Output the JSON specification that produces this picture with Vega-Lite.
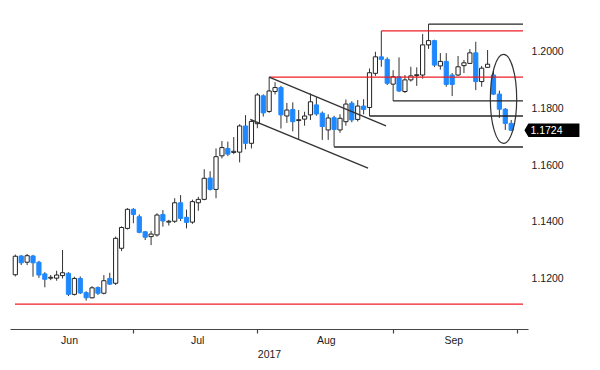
{
  "$schema": "https://vega.github.io/schema/vega-lite/v6.json",
  "width": 518,
  "height": 324,
  "autosize": {"type": "none"},
  "padding": {"left": 10, "top": 5, "right": 72, "bottom": 41},
  "background": "white",
  "config": {"view": {"stroke": null}, "font": "Liberation Sans"},
  "datasets": {
    "ohlc": [
      {"i":1,"o":1.1216,"h":1.1287,"l":1.1210,"c":1.1281},
      {"i":2,"o":1.1282,"h":1.1285,"l":1.1250,"c":1.1258},
      {"i":3,"o":1.1260,"h":1.1289,"l":1.1250,"c":1.1283},
      {"i":4,"o":1.1282,"h":1.1286,"l":1.1209,"c":1.1258},
      {"i":5,"o":1.1260,"h":1.1265,"l":1.1205,"c":1.1215},
      {"i":6,"o":1.1219,"h":1.1225,"l":1.1172,"c":1.1200},
      {"i":7,"o":1.1204,"h":1.1215,"l":1.1197,"c":1.1207},
      {"i":8,"o":1.1204,"h":1.1230,"l":1.1195,"c":1.1215},
      {"i":9,"o":1.1213,"h":1.1303,"l":1.1203,"c":1.1223},
      {"i":10,"o":1.1221,"h":1.1225,"l":1.1141,"c":1.1147},
      {"i":11,"o":1.1147,"h":1.1209,"l":1.1143,"c":1.1203},
      {"i":12,"o":1.1203,"h":1.1210,"l":1.1148,"c":1.1152},
      {"i":13,"o":1.1153,"h":1.1158,"l":1.1125,"c":1.1135},
      {"i":14,"o":1.1135,"h":1.1176,"l":1.1133,"c":1.1170},
      {"i":15,"o":1.1171,"h":1.1175,"l":1.1145,"c":1.1151},
      {"i":16,"o":1.1151,"h":1.1215,"l":1.1147,"c":1.1195},
      {"i":17,"o":1.1203,"h":1.1223,"l":1.1180,"c":1.1183},
      {"i":18,"o":1.1186,"h":1.1350,"l":1.1180,"c":1.1344},
      {"i":19,"o":1.1309,"h":1.1386,"l":1.1299,"c":1.1382},
      {"i":20,"o":1.1379,"h":1.1450,"l":1.1375,"c":1.1446},
      {"i":21,"o":1.1446,"h":1.1450,"l":1.1397,"c":1.1428},
      {"i":22,"o":1.1420,"h":1.1428,"l":1.1362,"c":1.1365},
      {"i":23,"o":1.1367,"h":1.1370,"l":1.1338,"c":1.1348},
      {"i":24,"o":1.1350,"h":1.1370,"l":1.1320,"c":1.1359},
      {"i":25,"o":1.1356,"h":1.1432,"l":1.1350,"c":1.1426},
      {"i":26,"o":1.1428,"h":1.1443,"l":1.1385,"c":1.1405},
      {"i":27,"o":1.1401,"h":1.1409,"l":1.1389,"c":1.1404},
      {"i":28,"o":1.1404,"h":1.1485,"l":1.1398,"c":1.1469},
      {"i":29,"o":1.1469,"h":1.1496,"l":1.1405,"c":1.1414},
      {"i":30,"o":1.1418,"h":1.1445,"l":1.1379,"c":1.1400},
      {"i":31,"o":1.1401,"h":1.1480,"l":1.1395,"c":1.1473},
      {"i":32,"o":1.1469,"h":1.1490,"l":1.1441,"c":1.1481},
      {"i":33,"o":1.1481,"h":1.1587,"l":1.1478,"c":1.1555},
      {"i":34,"o":1.1556,"h":1.1580,"l":1.1512,"c":1.1516},
      {"i":35,"o":1.1516,"h":1.1660,"l":1.1485,"c":1.1631},
      {"i":36,"o":1.1634,"h":1.1686,"l":1.1625,"c":1.1663},
      {"i":37,"o":1.1660,"h":1.1684,"l":1.1633,"c":1.1640},
      {"i":38,"o":1.1646,"h":1.1700,"l":1.1640,"c":1.1650},
      {"i":39,"o":1.1647,"h":1.1745,"l":1.1611,"c":1.1739},
      {"i":40,"o":1.1739,"h":1.1777,"l":1.1657,"c":1.1678},
      {"i":41,"o":1.1678,"h":1.1760,"l":1.1660,"c":1.1755},
      {"i":42,"o":1.1747,"h":1.1855,"l":1.1731,"c":1.1848},
      {"i":43,"o":1.1845,"h":1.1850,"l":1.1772,"c":1.1785},
      {"i":44,"o":1.1790,"h":1.1911,"l":1.1785,"c":1.1862},
      {"i":45,"o":1.1860,"h":1.1893,"l":1.1850,"c":1.1874},
      {"i":46,"o":1.1874,"h":1.1880,"l":1.1730,"c":1.1778},
      {"i":47,"o":1.1774,"h":1.1820,"l":1.1750,"c":1.1795},
      {"i":48,"o":1.1797,"h":1.1822,"l":1.1720,"c":1.1754},
      {"i":49,"o":1.1758,"h":1.1795,"l":1.1693,"c":1.1761},
      {"i":50,"o":1.1763,"h":1.1789,"l":1.1740,"c":1.1774},
      {"i":51,"o":1.1778,"h":1.1853,"l":1.1760,"c":1.1824},
      {"i":52,"o":1.1813,"h":1.1840,"l":1.1775,"c":1.1781},
      {"i":53,"o":1.1784,"h":1.1790,"l":1.1690,"c":1.1737},
      {"i":54,"o":1.1725,"h":1.1780,"l":1.1690,"c":1.1767},
      {"i":55,"o":1.1768,"h":1.1775,"l":1.1666,"c":1.1727},
      {"i":56,"o":1.1725,"h":1.1780,"l":1.1715,"c":1.1766},
      {"i":57,"o":1.1754,"h":1.1832,"l":1.1740,"c":1.1816},
      {"i":58,"o":1.1819,"h":1.1826,"l":1.1752,"c":1.1760},
      {"i":59,"o":1.1762,"h":1.1830,"l":1.1755,"c":1.1809},
      {"i":60,"o":1.1809,"h":1.1833,"l":1.1780,"c":1.1797},
      {"i":61,"o":1.1804,"h":1.1941,"l":1.1774,"c":1.1926},
      {"i":62,"o":1.1924,"h":1.2000,"l":1.1915,"c":1.1982},
      {"i":63,"o":1.1982,"h":1.2073,"l":1.1947,"c":1.1973},
      {"i":64,"o":1.1973,"h":1.1980,"l":1.1883,"c":1.1889},
      {"i":65,"o":1.1886,"h":1.1935,"l":1.1827,"c":1.1912},
      {"i":66,"o":1.1912,"h":1.1980,"l":1.1858,"c":1.1862},
      {"i":67,"o":1.1860,"h":1.1918,"l":1.1855,"c":1.1901},
      {"i":68,"o":1.1901,"h":1.1947,"l":1.1895,"c":1.1915},
      {"i":69,"o":1.1916,"h":1.1945,"l":1.1880,"c":1.1919},
      {"i":70,"o":1.1918,"h":1.2062,"l":1.1905,"c":1.2024},
      {"i":71,"o":1.2024,"h":1.2097,"l":1.2010,"c":1.2039},
      {"i":72,"o":1.2039,"h":1.2042,"l":1.1946,"c":1.1953},
      {"i":73,"o":1.1950,"h":1.1995,"l":1.1937,"c":1.1966},
      {"i":74,"o":1.1966,"h":1.1995,"l":1.1877,"c":1.1885},
      {"i":75,"o":1.1918,"h":1.1925,"l":1.1844,"c":1.1885},
      {"i":76,"o":1.1918,"h":1.1985,"l":1.1915,"c":1.1947},
      {"i":77,"o":1.1951,"h":1.1971,"l":1.1925,"c":1.1961},
      {"i":78,"o":1.1959,"h":1.2009,"l":1.1957,"c":1.1996},
      {"i":79,"o":1.1996,"h":1.2035,"l":1.1865,"c":1.1895},
      {"i":80,"o":1.1895,"h":1.1950,"l":1.1877,"c":1.1942},
      {"i":81,"o":1.1945,"h":1.2006,"l":1.1943,"c":1.1956},
      {"i":82,"o":1.1918,"h":1.1936,"l":1.1848,"c":1.1851},
      {"i":83,"o":1.1851,"h":1.1863,"l":1.1767,"c":1.1798},
      {"i":84,"o":1.1798,"h":1.1802,"l":1.1725,"c":1.1748},
      {"i":85,"o":1.1748,"h":1.1760,"l":1.1721,"c":1.1724}
    ],
    "levels": [
      {"from":71,"level":1.2097,"group":"swing"},
      {"from":63,"level":1.2073,"group":"key"},
      {"from":44,"level":1.1911,"group":"key"},
      {"from":65,"level":1.1827,"group":"swing"},
      {"from":61,"level":1.1774,"group":"swing"},
      {"from":55,"level":1.1665,"group":"swing"},
      {"from":0.947,"level":1.1113,"group":"key"}
    ],
    "channel": [
      {"i0":44,"p0":1.1911,"i1":63.8,"p1":1.1739},
      {"i0":40.8,"p0":1.1762,"i1":60.75,"p1":1.1591}
    ],
    "ellipse": [{"i":83.7,"p":1.1834}],
    "tag": [{"i":91.9,"p":1.1724,"label":"1.1724"}],
    "yticks": [{"p":1.12},{"p":1.14},{"p":1.16},{"p":1.18},{"p":1.2}]
  },
  "resolve": {"axis": {"x": "independent"}},
  "layer": [
    {
      "data": {"name": "ohlc"},
      "mark": {"type": "rule", "color": "#333333", "strokeWidth": 1, "clip": true},
      "encoding": {
        "x": {"field": "i", "type": "quantitative",
              "scale": {"domain": [0.947, 87.0], "nice": false, "zero": false},
              "axis": {"orient": "bottom", "values": [21, 42, 65, 86], "labels": false, "ticks": true,
                       "tickSize": 4, "tickColor": "#444444", "tickWidth": 1.2, "domainColor": "#444444",
                       "domainWidth": 1.2, "grid": false, "title": null}},
        "y": {"field": "l", "type": "quantitative",
              "scale": {"domain": [1.10253, 1.21642], "nice": false, "zero": false},
              "axis": null},
        "y2": {"field": "h"}
      }
    },
    {
      "data": {"name": "ohlc"},
      "mark": {"type": "bar", "size": 4.2, "strokeWidth": 1, "clip": true},
      "encoding": {
        "x": {"field": "i", "type": "quantitative",
              "axis": {"orient": "bottom", "values": [10.1, 31.8, 53.6, 75.2],
                       "labelExpr": "datum.value < 20 ? 'Jun' : datum.value < 40 ? 'Jul' : datum.value < 60 ? 'Aug' : 'Sep'",
                       "ticks": false, "domain": false, "grid": false, "labelPadding": 6,
                       "labelFontSize": 10.5, "labelColor": "#1a1a1a", "labelFlush": false, "labelOverlap": false,
                       "title": "2017", "titleFontSize": 10.5, "titleFontWeight": "normal",
                       "titleColor": "#1a1a1a", "titlePadding": 4}},
        "y": {"field": "o", "type": "quantitative", "axis": null},
        "y2": {"field": "c"},
        "fill": {"condition": {"test": "datum.c >= datum.o", "value": "#ffffff"}, "value": "#1e88ff"},
        "stroke": {"condition": {"test": "datum.c >= datum.o", "value": "#222222"}, "value": "#1e88ff"}
      }
    },
    {
      "data": {"name": "levels"},
      "mark": {"type": "rule", "strokeWidth": 1.3},
      "encoding": {
        "x": {"field": "from", "type": "quantitative", "axis": null},
        "x2": {"datum": 87},
        "y": {"field": "level", "type": "quantitative", "axis": null},
        "color": {"field": "group", "type": "nominal",
                  "scale": {"domain": ["key", "swing"], "range": ["#ee1c25", "#262626"]}, "legend": null}
      }
    },
    {
      "data": {"name": "channel"},
      "mark": {"type": "rule", "strokeWidth": 1.3, "color": "#333333"},
      "encoding": {
        "x": {"field": "i0", "type": "quantitative", "axis": null},
        "x2": {"field": "i1"},
        "y": {"field": "p0", "type": "quantitative", "axis": null},
        "y2": {"field": "p1"}
      }
    },
    {
      "data": {"name": "ellipse"},
      "mark": {"type": "point", "filled": false, "stroke": "#333333", "strokeWidth": 1.2, "opacity": 1,
               "size": 7921, "shape": "M-0.296,0 A0.296,1 0 1,0 0.296,0 A0.296,1 0 1,0 -0.296,0 Z"},
      "encoding": {
        "x": {"field": "i", "type": "quantitative", "axis": null},
        "y": {"field": "p", "type": "quantitative", "axis": null}
      }
    },
    {
      "data": {"name": "yticks"},
      "mark": {"type": "text", "align": "left", "baseline": "middle", "fontSize": 10.5, "color": "#1a1a1a"},
      "encoding": {
        "x": {"datum": 88.45, "type": "quantitative", "axis": null},
        "y": {"field": "p", "type": "quantitative", "axis": null},
        "text": {"field": "p", "format": ".4f"}
      }
    },
    {
      "data": {"name": "tag"},
      "mark": {"type": "point", "filled": true, "fill": "#000000", "strokeWidth": 0, "opacity": 1,
               "size": 3025, "shape": "M-1,0 L-0.855,-0.242 L1,-0.242 L1,0.242 L-0.855,0.242 Z"},
      "encoding": {
        "x": {"field": "i", "type": "quantitative", "axis": null},
        "y": {"field": "p", "type": "quantitative", "axis": null}
      }
    },
    {
      "data": {"name": "tag"},
      "mark": {"type": "text", "align": "left", "baseline": "middle", "dx": -21.5, "dy": 0.5,
               "fontSize": 10.5, "color": "#ffffff"},
      "encoding": {
        "x": {"field": "i", "type": "quantitative", "axis": null},
        "y": {"field": "p", "type": "quantitative", "axis": null},
        "text": {"field": "label"}
      }
    }
  ]
}
